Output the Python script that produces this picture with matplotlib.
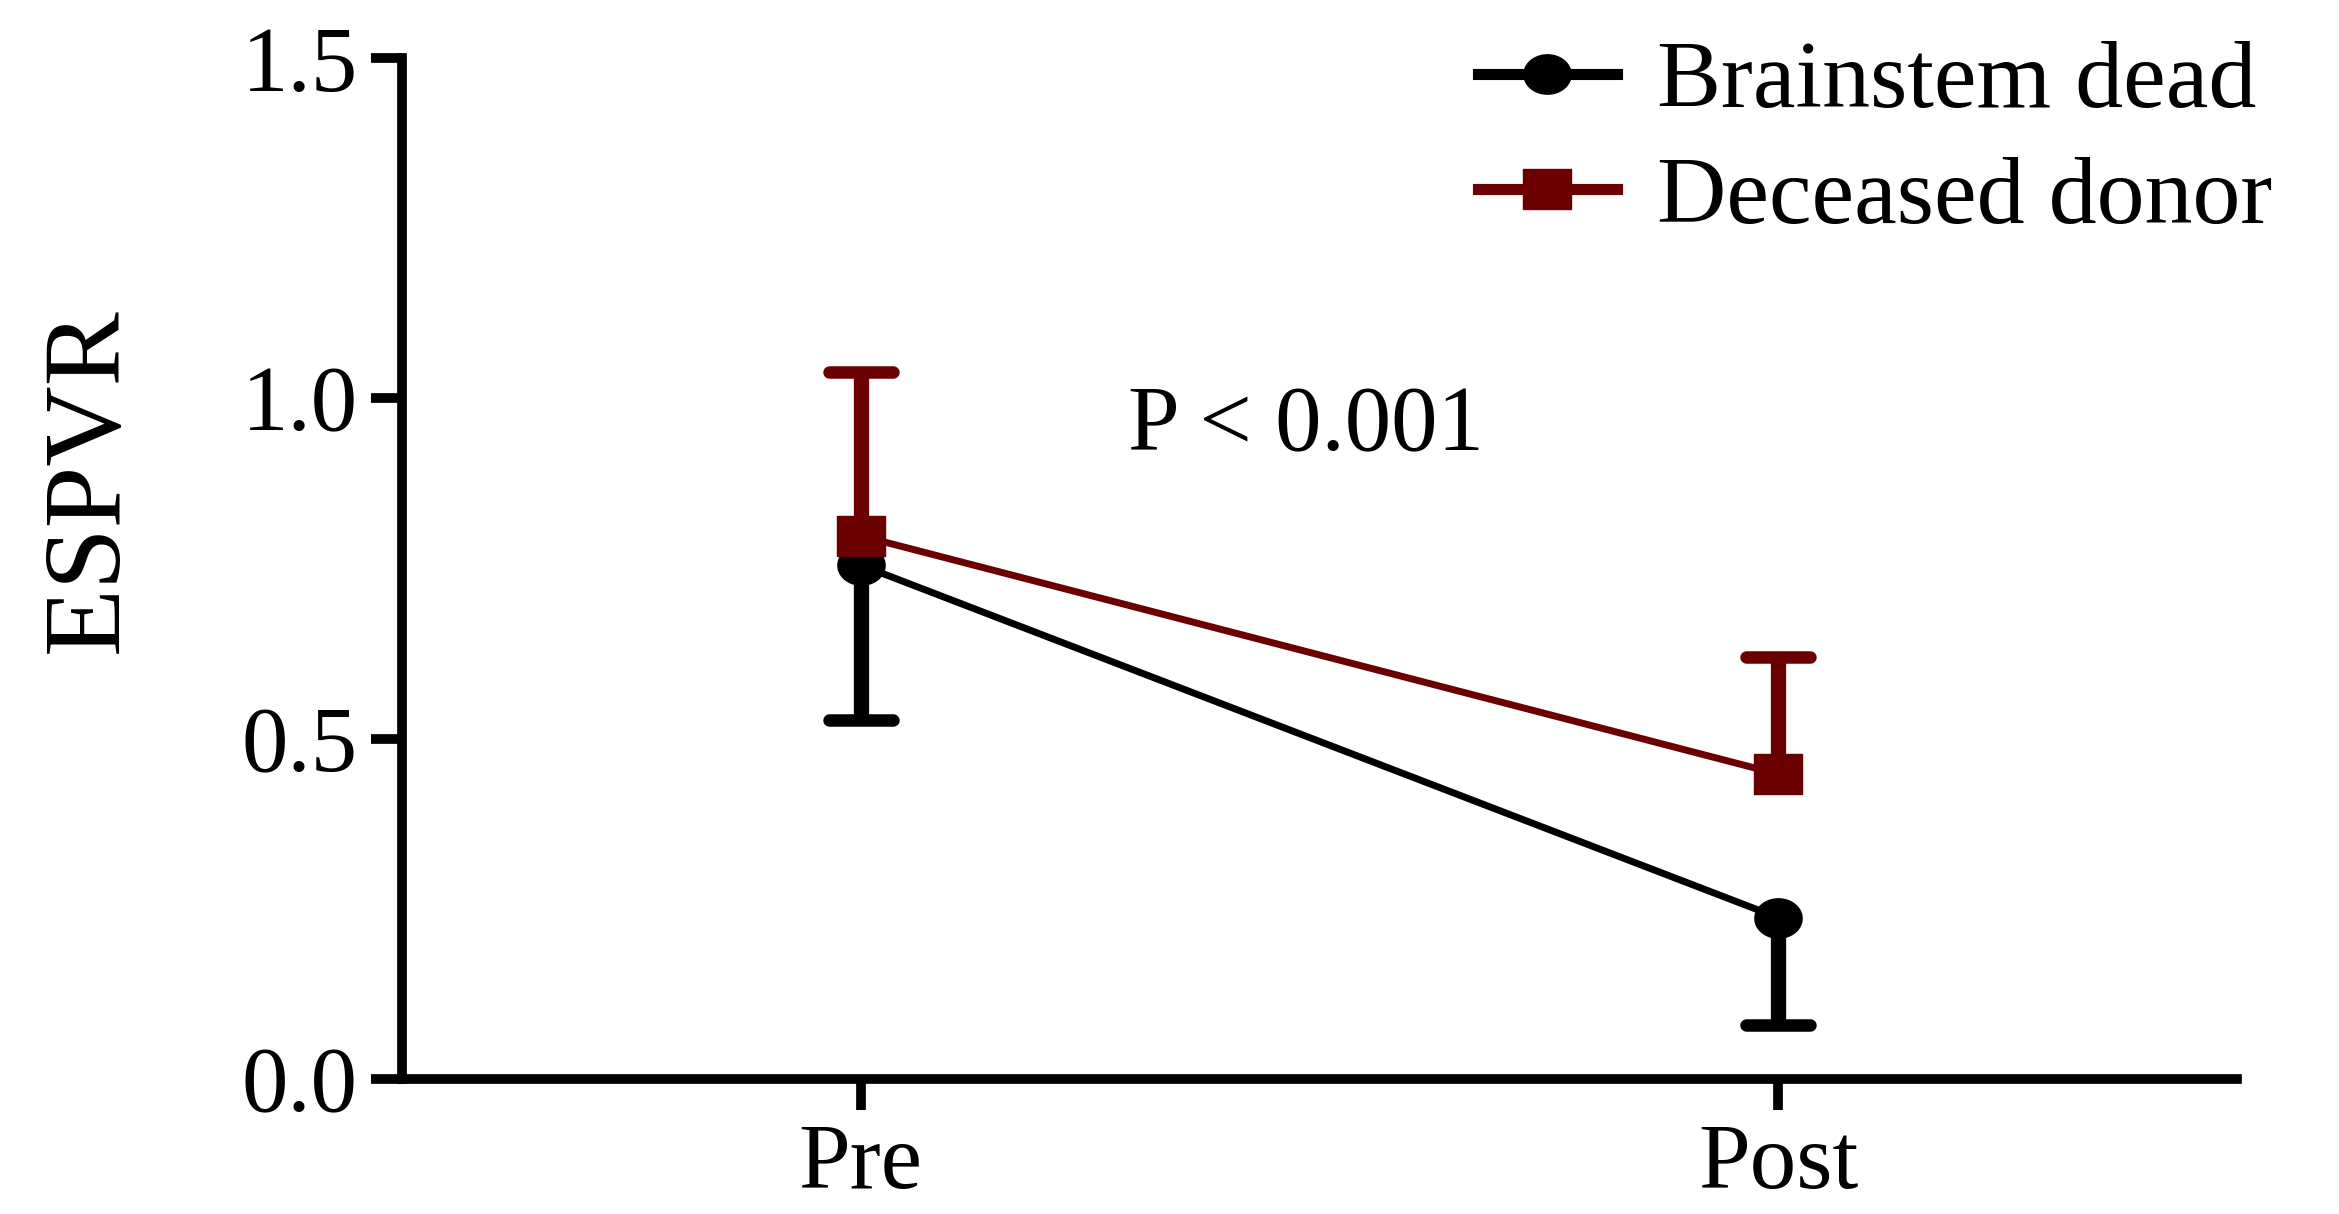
import matplotlib
matplotlib.use('Agg')
import matplotlib.pyplot as plt
from matplotlib.path import Path
from matplotlib.markers import MarkerStyle
from matplotlib.lines import Line2D
import numpy as np

# values
groups = ['Pre', 'Post']
brainstem_mean = [0.755, 0.237]
brainstem_lower = [0.228, 0.158]
donor_mean = [0.798, 0.448]
donor_upper = [0.240, 0.172]
yticks = [0.0, 0.5, 1.0, 1.5]
ytick_labels = ['0.0', '0.5', '1.0', '1.5']

plt.rcParams['font.family'] = ['Liberation Serif', 'DejaVu Serif']

red = '#6b0000'

# slightly wide markers, the source picture is stretched sideways
t = np.linspace(0, 2 * np.pi, 60)
ellipse = MarkerStyle(Path(np.column_stack([1.2 * np.cos(t), np.sin(t)]), closed=True))
rect = MarkerStyle(Path([(-1.2, -1), (1.2, -1), (1.2, 1), (-1.2, 1), (-1.2, -1)], closed=True))
cap = MarkerStyle('_', capstyle='round')

fig = plt.figure(figsize=(23.39, 12.14), dpi=100)
ax = fig.add_axes([0.1719, 0.1112, 0.7845, 0.841])

x = np.arange(len(groups))
bm = np.array(brainstem_mean)
dm = np.array(donor_mean)
b_end = bm - np.array(brainstem_lower)
d_end = dm + np.array(donor_upper)

# one-sided error bars: black downwards, red upwards
ax.vlines(x, b_end, bm, color='black', lw=11, zorder=2)
ax.plot(x, b_end, ls='none', marker=cap, ms=46, mew=9, color='black', zorder=2)
ax.plot(x, bm, color='black', lw=5, marker=ellipse, ms=34, zorder=3)

ax.vlines(x, dm, d_end, color=red, lw=11, zorder=2)
ax.plot(x, d_end, ls='none', marker=cap, ms=46, mew=9, color=red, zorder=2)
ax.plot(x, dm, color=red, lw=5, marker=rect, ms=34, zorder=4)

ax.text(0.485, 0.924, 'P < 0.001', ha='center', va='baseline', fontsize=67)

ax.set_xlim(-0.5, 1.5)
ax.set_ylim(0, 1.5)
ax.set_xticks(x)
ax.set_xticklabels(groups)
ax.set_yticks(yticks)
ax.set_yticklabels(ytick_labels)

for s in ['top', 'right']:
    ax.spines[s].set_visible(False)
for s in ['left', 'bottom']:
    ax.spines[s].set_linewidth(7)
    ax.spines[s].set_capstyle('projecting')
ax.tick_params(axis='both', length=22, width=7, labelsize=67)
ax.tick_params(axis='y', pad=10)
ax.tick_params(axis='x', pad=10)

fig.text(90 / 2339, 1 - 480 / 1214, 'ESPVR', rotation=90, ha='center', va='center', fontsize=80)

handles = [Line2D([], [], color='black', lw=8, marker=ellipse, ms=34),
           Line2D([], [], color=red, lw=8, marker=rect, ms=34)]
leg = ax.legend(handles, ['Brainstem dead', 'Deceased donor'],
                loc='upper left', bbox_to_anchor=(1478 / 2339, 1 - 40 / 1214),
                bbox_transform=fig.transFigure, frameon=False, fontsize=69,
                handlelength=1.45, handletextpad=0.42, labelspacing=0.3,
                borderpad=0, borderaxespad=0)

fig.savefig('out.png', dpi=100, facecolor='white')
